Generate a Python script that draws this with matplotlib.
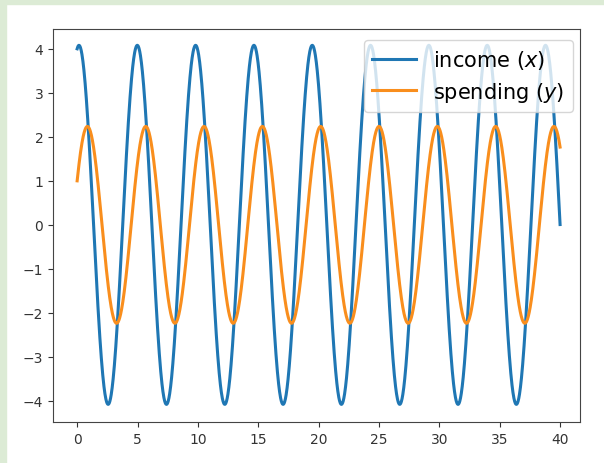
import numpy as np
import matplotlib
matplotlib.use("Agg")
import matplotlib.pyplot as plt
from matplotlib.patches import Rectangle

# values: both series are sinusoids
# x(t) = a*cos(w t) + b*sin(w t), y(t) = c*cos(w t) + d*sin(w t)
t_range = [0, 40]
omega = 1.3008             # from trough spacing (period ~4.83), x(40) ~ 0
income_coef = [4.0, 0.8]   # starts at 4, peak ~4.08
spending_coef = [1.0, 2.0] # starts at 1, peak ~2.24
labels = ["income ($x$)", "spending ($y$)"]

t = np.linspace(t_range[0], t_range[1], 2000)
income = income_coef[0] * np.cos(omega * t) + income_coef[1] * np.sin(omega * t)
spending = spending_coef[0] * np.cos(omega * t) + spending_coef[1] * np.sin(omega * t)

fig = plt.figure(figsize=(6.04, 4.64), dpi=100)
# pale green frame on the left and top edges of the screenshot
fig.patches.append(Rectangle((0, 0), 6 / 604, 1, transform=fig.transFigure,
                             color="#dcebd5", zorder=0))
fig.patches.append(Rectangle((0, 1 - 5 / 464), 1, 5 / 464, transform=fig.transFigure,
                             color="#dcebd5", zorder=0))

ax = fig.add_axes([53 / 604, 1 - 423 / 464, (580 - 53) / 604, (423 - 30) / 464])
ax.plot(t, income, color="#1f77b4", lw=2.2, label=labels[0])
ax.plot(t, spending, color="#f98e1d", lw=2.2, label=labels[1])

ax.set_xlim(-2, 41.65)
ax.set_ylim(-4.48, 4.45)
ax.set_xticks(range(0, 41, 5))
ax.set_yticks(range(-4, 5))
ax.tick_params(labelsize=10, colors="#333333")
for s in ax.spines.values():
    s.set_color("#444444")

ax.legend(loc="upper right", fontsize=15, handlelength=2.1, handletextpad=0.85,
          bbox_to_anchor=(573 / 604, 1 - 41 / 464), bbox_transform=fig.transFigure,
          borderaxespad=0, labelspacing=0.4)

fig.savefig("out.png", dpi=100)
